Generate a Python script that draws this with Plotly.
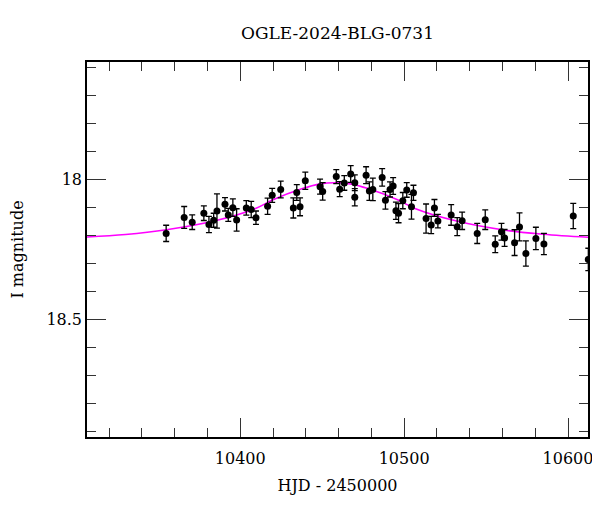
import plotly.graph_objects as go

# Photometry (HJD - 2450000, I magnitude, error)
hjd = [10354.8, 10365.8, 10370.7, 10377.8, 10380.9, 10383.8, 10385.8, 10390.7,
       10392.7, 10395.5, 10397.8, 10403.7, 10406.7, 10409.6, 10416.7, 10419.5,
       10424.7, 10432.4, 10434.5, 10436.5, 10439.7, 10448.7, 10450.3, 10458.6,
       10460.7, 10463.5, 10467.4, 10469.9, 10469.9, 10476.8, 10478.8, 10480.9,
       10486.6, 10488.6, 10491.4, 10493.3, 10495.0, 10496.6, 10499.2, 10501.6,
       10504.5, 10505.7, 10513.4, 10516.5, 10518.5, 10520.6, 10528.7, 10532.4,
       10535.4, 10544.6, 10549.5, 10555.6, 10559.4, 10561.3, 10567.4, 10570.4,
       10574.3, 10580.4, 10585.3, 10603.2, 10612.4]
mag = [18.192, 18.135, 18.152, 18.120, 18.160, 18.145, 18.112, 18.088,
       18.126, 18.100, 18.144, 18.101, 18.107, 18.136, 18.095, 18.056,
       18.035, 18.101, 18.046, 18.097, 18.004, 18.025, 18.042, 17.989,
       18.034, 18.012, 17.980, 18.011, 18.063, 17.984, 18.041, 18.035,
       17.992, 18.074, 18.035, 18.023, 18.111, 18.120, 18.075, 18.037,
       18.097, 18.047, 18.139, 18.162, 18.101, 18.148, 18.126, 18.168,
       18.147, 18.192, 18.143, 18.231, 18.186, 18.208, 18.225, 18.169,
       18.264, 18.210, 18.230, 18.130, 18.285]
err = [0.029, 0.039, 0.026, 0.026, 0.029, 0.025, 0.061, 0.024,
       0.023, 0.031, 0.040, 0.026, 0.029, 0.024, 0.029, 0.025,
       0.030, 0.036, 0.028, 0.032, 0.031, 0.027, 0.031, 0.025,
       0.027, 0.026, 0.030, 0.028, 0.031, 0.030, 0.033, 0.040,
       0.031, 0.031, 0.027, 0.030, 0.031, 0.034, 0.029, 0.026,
       0.044, 0.027, 0.052, 0.031, 0.030, 0.024, 0.037, 0.032,
       0.031, 0.036, 0.035, 0.030, 0.030, 0.030, 0.046, 0.050,
       0.045, 0.040, 0.038, 0.045, 0.040]

# Model curve
model_hjd = [10306, 10330, 10355, 10384, 10409, 10420, 10438, 10448, 10458,
             10468, 10478, 10496, 10507, 10532, 10561, 10585, 10612.5]
model_mag = [18.205, 18.196, 18.179, 18.148, 18.104, 18.072, 18.032, 18.016, 18.011,
             18.016, 18.032, 18.072, 18.104, 18.148, 18.180, 18.195, 18.206]

title_text = "OGLE-2024-BLG-0731"
x_title = "HJD - 2450000"
y_title = "I magnitude"
x_ticks = [10400, 10500, 10600]
x_tick_labels = ["10400", "10500", "10600"]
y_ticks = [18, 18.5]
y_tick_labels = ["18", "18.5"]

font = "DejaVu Serif"

fig = go.Figure()
fig.add_trace(go.Scatter(
    x=model_hjd, y=model_mag, mode="lines",
    line=dict(color="#ff00ff", width=1.6, shape="spline", smoothing=1.0),
    hoverinfo="skip", showlegend=False))
fig.add_trace(go.Scatter(
    x=hjd, y=mag, mode="markers",
    marker=dict(color="black", size=7),
    error_y=dict(type="data", array=err, visible=True, color="black",
                 thickness=1.3, width=3),
    showlegend=False))

axis_common = dict(
    showgrid=False, zeroline=False, showline=True, linecolor="black",
    linewidth=1.5, mirror="ticks", ticks="inside", tickcolor="#333",
    tickwidth=1.2, ticklen=19, automargin=False,
    tickfont=dict(family=font, size=16, color="black"),
)

fig.update_xaxes(
    range=[10306.5, 10612.2], tickvals=x_ticks, ticktext=x_tick_labels,
    ticklabelstandoff=6,
    minor=dict(ticks="inside", ticklen=9.5, tickmode="linear", dtick=20,
               tick0=10300, tickcolor="#333", tickwidth=1.2),
    title=dict(text=x_title, font=dict(family=font, size=16, color="black"),
               standoff=13),
    **axis_common)
fig.update_yaxes(
    range=[18.919, 17.580], tickvals=y_ticks, ticktext=y_tick_labels,
    minor=dict(ticks="inside", ticklen=9.5, tickmode="linear", dtick=0.1,
               tick0=17.5, tickcolor="#333", tickwidth=1.2),
    title=dict(text=y_title, font=dict(family=font, size=16, color="black"),
               standoff=20),
    **axis_common)

fig.update_layout(
    width=600, height=512,
    margin=dict(l=79, r=20, t=54, b=83),
    plot_bgcolor="white", paper_bgcolor="white",
    title=dict(text=title_text, xref="paper", x=0.5, xanchor="center",
               yref="container", y=1 - 25 / 512, yanchor="middle",
               font=dict(family=font, size=17, color="black")),
)

fig.write_html("out.html")
